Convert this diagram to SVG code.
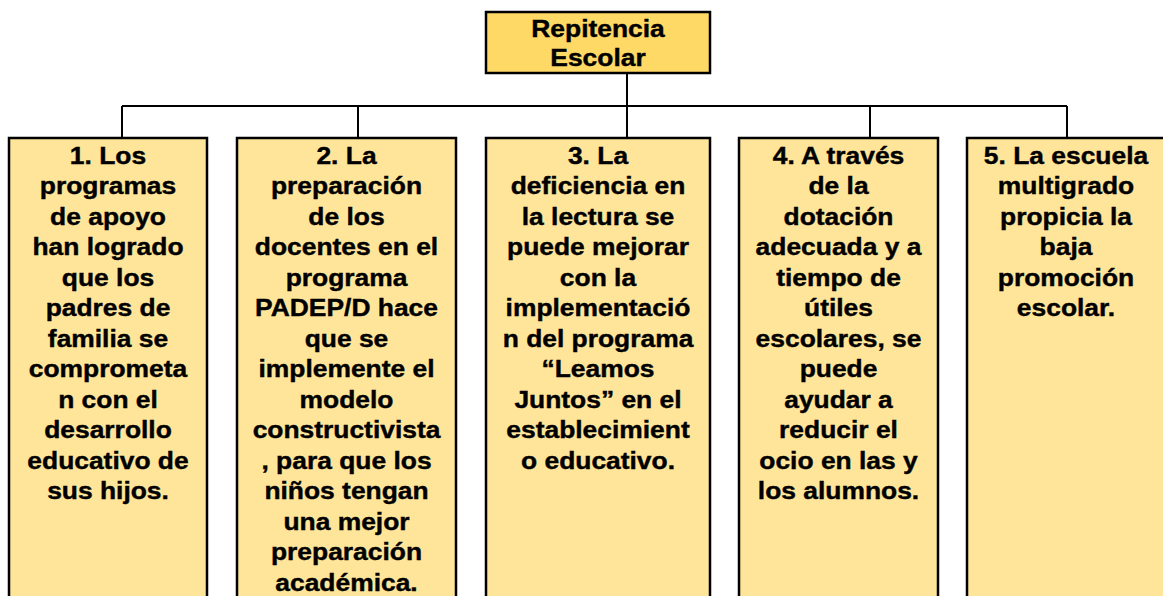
<svg xmlns="http://www.w3.org/2000/svg" width="1163" height="596" viewBox="0 0 1163 596">
<style>
.box{fill:#FFE599;stroke:#000;stroke-width:2.5}
.root{fill:#FFD966;stroke:#000;stroke-width:2.5}
.t{font-family:"Liberation Sans",Arial,sans-serif;font-weight:bold;font-size:24px;fill:#000;stroke:#000;stroke-width:0.4;text-anchor:middle}
.c{fill:none;stroke:#000;stroke-width:2}
</style>
<rect width="1163" height="596" fill="#fff"/>
<g id="connectors">
<path class="c" d="M627,73 V138"/>
<path class="c" d="M122,106 H1067"/>
<path class="c" d="M122,106 V138 M358,106 V138 M870,106 V138 M1067,106 V138"/>
</g>
<g id="root">
<rect class="root" x="486" y="12" width="224" height="61"/>
<g transform="translate(598,0) scale(1.1,1)">
<text class="t" x="0" y="37">Repitencia</text>
<text class="t" x="0" y="66">Escolar</text>
</g>
</g>
<g id="node1">
<rect class="box" x="9" y="138" width="198" height="480"/>
<g transform="translate(108,0) scale(1.1,1)">
<text class="t" x="0" y="164">1. Los</text>
<text class="t" x="0" y="194.5">programas</text>
<text class="t" x="0" y="225">de apoyo</text>
<text class="t" x="0" y="255.5">han logrado</text>
<text class="t" x="0" y="286">que los</text>
<text class="t" x="0" y="316.5">padres de</text>
<text class="t" x="0" y="347">familia se</text>
<text class="t" x="0" y="377.5">comprometa</text>
<text class="t" x="0" y="408">n con el</text>
<text class="t" x="0" y="438.5">desarrollo</text>
<text class="t" x="0" y="469">educativo de</text>
<text class="t" x="0" y="499.5">sus hijos.</text>
</g>
</g>
<g id="node2">
<rect class="box" x="237" y="138" width="219" height="480"/>
<g transform="translate(346.5,0) scale(1.1,1)">
<text class="t" x="0" y="164">2. La</text>
<text class="t" x="0" y="194.5">preparación</text>
<text class="t" x="0" y="225">de los</text>
<text class="t" x="0" y="255.5">docentes en el</text>
<text class="t" x="0" y="286">programa</text>
<text class="t" x="0" y="316.5">PADEP/D hace</text>
<text class="t" x="0" y="347">que se</text>
<text class="t" x="0" y="377.5">implemente el</text>
<text class="t" x="0" y="408">modelo</text>
<text class="t" x="0" y="438.5">constructivista</text>
<text class="t" x="0" y="469">, para que los</text>
<text class="t" x="0" y="499.5">niños tengan</text>
<text class="t" x="0" y="530">una mejor</text>
<text class="t" x="0" y="560.5">preparación</text>
<text class="t" x="0" y="591">académica.</text>
</g>
</g>
<g id="node3">
<rect class="box" x="486" y="138" width="224" height="480"/>
<g transform="translate(598,0) scale(1.1,1)">
<text class="t" x="0" y="164">3. La</text>
<text class="t" x="0" y="194.5">deficiencia en</text>
<text class="t" x="0" y="225">la lectura se</text>
<text class="t" x="0" y="255.5">puede mejorar</text>
<text class="t" x="0" y="286">con la</text>
<text class="t" x="0" y="316.5">implementació</text>
<text class="t" x="0" y="347">n del programa</text>
<text class="t" x="0" y="377.5">“Leamos</text>
<text class="t" x="0" y="408">Juntos” en el</text>
<text class="t" x="0" y="438.5">establecimient</text>
<text class="t" x="0" y="469">o educativo.</text>
</g>
</g>
<g id="node4">
<rect class="box" x="739" y="138" width="199" height="480"/>
<g transform="translate(838.5,0) scale(1.1,1)">
<text class="t" x="0" y="164">4. A través</text>
<text class="t" x="0" y="194.5">de la</text>
<text class="t" x="0" y="225">dotación</text>
<text class="t" x="0" y="255.5">adecuada y a</text>
<text class="t" x="0" y="286">tiempo de</text>
<text class="t" x="0" y="316.5">útiles</text>
<text class="t" x="0" y="347">escolares, se</text>
<text class="t" x="0" y="377.5">puede</text>
<text class="t" x="0" y="408">ayudar a</text>
<text class="t" x="0" y="438.5">reducir el</text>
<text class="t" x="0" y="469">ocio en las y</text>
<text class="t" x="0" y="499.5">los alumnos.</text>
</g>
</g>
<g id="node5">
<rect class="box" x="967" y="138" width="220" height="480"/>
<g transform="translate(1066,0) scale(1.1,1)">
<text class="t" x="0" y="164">5. La escuela</text>
<text class="t" x="0" y="194.5">multigrado</text>
<text class="t" x="0" y="225">propicia la</text>
<text class="t" x="0" y="255.5">baja</text>
<text class="t" x="0" y="286">promoción</text>
<text class="t" x="0" y="316.5">escolar.</text>
</g>
</g>
</svg>
